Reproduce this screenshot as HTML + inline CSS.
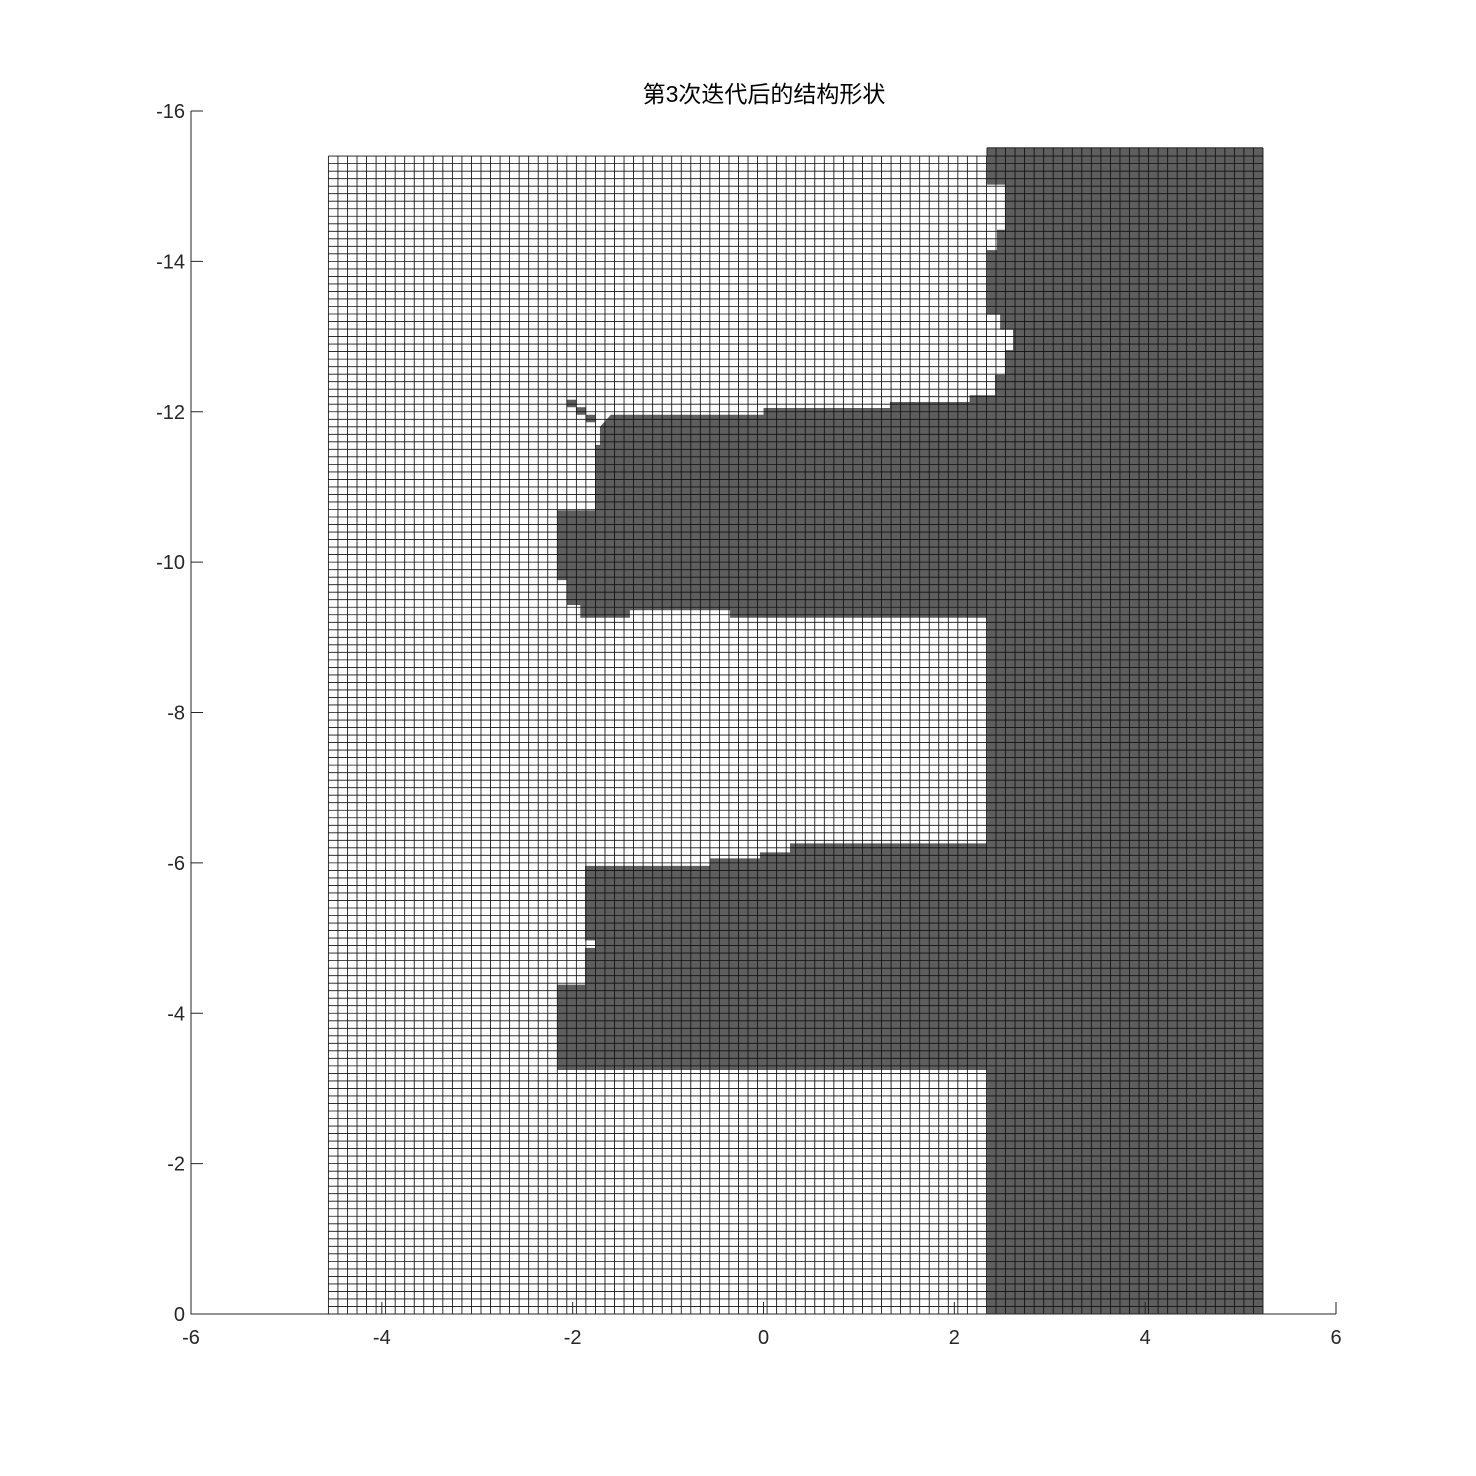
<!DOCTYPE html>
<html><head><meta charset="utf-8"><style>
html,body{margin:0;padding:0;background:#fff;}
svg{display:block;font-family:"Liberation Sans","Noto Sans CJK SC",sans-serif;}
</style></head><body>
<svg id="chart" width="1476" height="1476" viewBox="0 0 1476 1476">
<rect width="1476" height="1476" fill="#fff"/>
<text x="764" y="102" text-anchor="middle" font-size="23" fill="#000">第3次迭代后的结构形状</text>
<g id="plot"></g>
</svg>
<script>
const xTicks = [-6,-4,-2,0,2,4,6];
const yTicks = [0,-2,-4,-6,-8,-10,-12,-14,-16];
const meshX = [-4.56, 5.235];
const meshTopLeft = -15.4;
const meshTopRight = -15.51;
const solidLeftX = 2.342;
const darkShape = [[5.235,0],[2.342,0],[2.342,-3.245],[-2.164,-3.245],[-2.164,-4.38],[-1.871,-4.38],[-1.871,-4.87],[-1.766,-4.87],[-1.766,-4.97],[-1.871,-4.97],[-1.871,-5.96],[-0.56,-5.96],[-0.56,-6.06],[-0.037,-6.06],[-0.037,-6.14],[0.278,-6.14],[0.278,-6.26],[2.342,-6.26],[2.342,-9.26],[-0.35,-9.26],[-0.35,-9.36],[-1.40,-9.36],[-1.40,-9.26],[-1.92,-9.26],[-1.92,-9.43],[-2.06,-9.43],[-2.06,-9.76],[-2.164,-9.76],[-2.164,-10.69],[-1.766,-10.69],[-1.766,-11.56],[-1.714,-11.56],[-1.714,-11.80],[-1.6,-11.96],[0.0,-11.96],[0.0,-12.05],[1.325,-12.05],[1.325,-12.13],[2.16,-12.13],[2.16,-12.22],[2.426,-12.22],[2.426,-12.49],[2.53,-12.49],[2.53,-12.82],[2.615,-12.82],[2.615,-13.09],[2.48,-13.09],[2.48,-13.29],[2.342,-13.29],[2.342,-14.15],[2.447,-14.15],[2.447,-14.42],[2.53,-14.42],[2.53,-15.02],[2.342,-15.02],[2.342,-15.51],[5.235,-15.51]];
const isolatedCells = [[-2.06,-12.16],[-1.96,-12.06],[-1.86,-11.96]];
const cell = 0.1;

const X0=191, X1=1336, Y0=1314, Y1=111;
const sx = v => X0 + (v+6)/12*(X1-X0);
const sy = v => Y0 + (v/-16)*(Y1-Y0);
const NS="http://www.w3.org/2000/svg";
const plot=document.getElementById('plot');
function mk(tag, attrs){const e=document.createElementNS(NS,tag);for(const k in attrs)e.setAttribute(k,attrs[k]);plot.appendChild(e);return e;}

let bg=mk('rect',{x:sx(meshX[0]),y:sy(meshTopLeft),width:sx(meshX[1])-sx(meshX[0]),height:sy(0)-sy(meshTopLeft),fill:'#fff'});


let poly=mk('polygon',{points:darkShape.map(p=>sx(p[0])+','+sy(p[1])).join(' '),fill:'#5e5e5e'});


isolatedCells.forEach(c=>{
  let r=mk('rect',{x:sx(c[0]),y:sy(c[1]),width:sx(c[0]+cell)-sx(c[0]),height:sy(c[1]+cell)-sy(c[1]),fill:'#5e5e5e'});
  
  
});
let d='';
const nx=Math.round((meshX[1]-meshX[0])/cell);
for(let i=0;i<=nx;i++){
  const xv=meshX[0]+i*(meshX[1]-meshX[0])/nx;
  const top = xv>=solidLeftX-0.001 ? meshTopRight : meshTopLeft;
  d+='M'+sx(xv).toFixed(2)+' '+sy(0)+'V'+sy(top).toFixed(2);
}
const ny=Math.round(-meshTopLeft/cell);
for(let j=0;j<=ny;j++){
  const yv=-j*(-meshTopLeft)/ny;
  d+='M'+sx(meshX[0])+' '+sy(yv).toFixed(2)+'H'+sx(meshX[1]).toFixed(2);
}
d+='M'+sx(solidLeftX)+' '+sy(meshTopRight)+'H'+sx(meshX[1]);
d+='M'+sx(solidLeftX)+' '+sy(meshTopRight)+'V'+sy(meshTopLeft);
let grid=mk('path',{d:d,stroke:'#111',"stroke-width":'0.85',fill:'none'});


let ax=mk('path',{d:`M${X0} ${Y1}V${Y0}H${X1}`,stroke:'#262626','stroke-width':'1',fill:'none'});


xTicks.forEach(t=>{
  let tk=mk('line',{x1:sx(t),x2:sx(t),y1:Y0,y2:Y0-12,stroke:'#262626','stroke-width':'1'});
  
  
  let lb=mk('text',{x:sx(t),y:Y0+30,'text-anchor':'middle','font-size':'20',fill:'#262626'});
  lb.textContent=String(t);
  
  
});
yTicks.forEach(t=>{
  let tk=mk('line',{x1:X0,x2:X0+12,y1:sy(t),y2:sy(t),stroke:'#262626','stroke-width':'1'});
  
  
  let lb=mk('text',{x:X0-6,y:sy(t)+7,'text-anchor':'end','font-size':'20',fill:'#262626'});
  lb.textContent=String(t);
  
  
});
</script>
</body></html>
